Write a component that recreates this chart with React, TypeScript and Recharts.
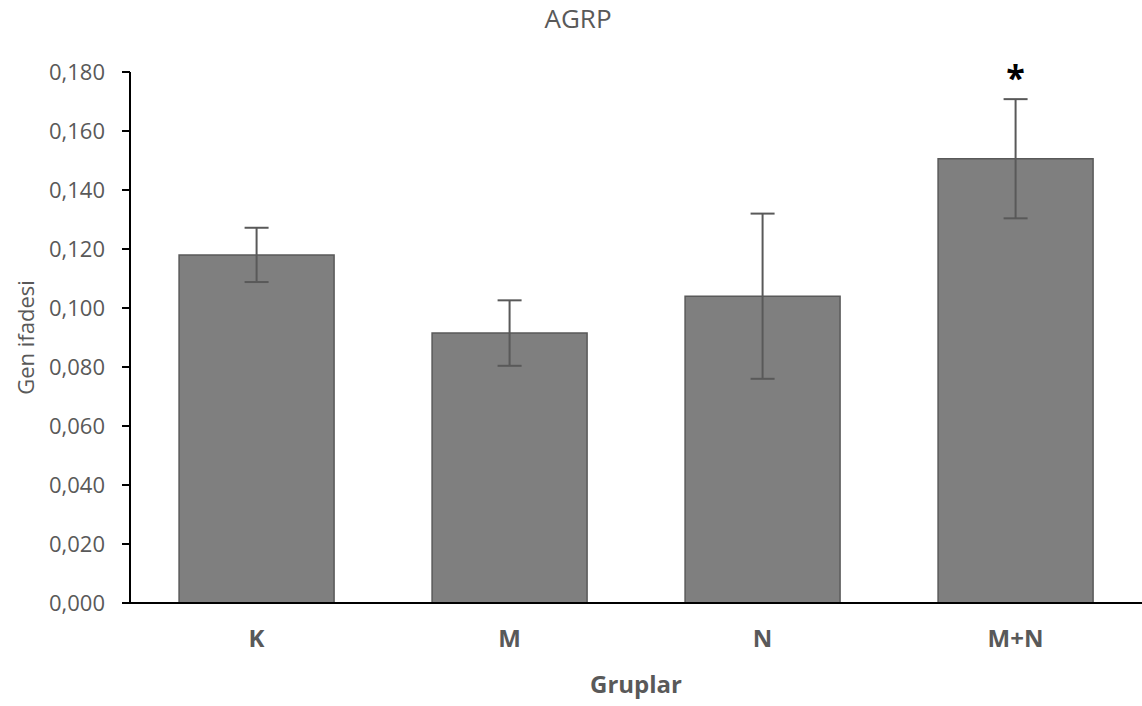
import { BarChart, Bar, XAxis, YAxis, ErrorBar, LabelList, Label } from "recharts";

// gruplar ve ölçülen gen ifadesi (ortalama ± hata)
const groups = ["K", "M", "N", "M+N"];
const means = [0.118, 0.0915, 0.104, 0.1506];
const errors = [0.0092, 0.0111, 0.028, 0.0202];
const marks = ["", "", "", "*"];
const yTicks = [0, 0.02, 0.04, 0.06, 0.08, 0.1, 0.12, 0.14, 0.16, 0.18];

const data = groups.map((g, i) => ({
  group: g,
  value: means[i],
  err: errors[i],
  mark: marks[i],
}));

const FONT = "'Open Sans', sans-serif";
const GREY = "#595959";

// 0.12 → "0,120"
function formatTick(v: number): string {
  return v.toFixed(3).replace(".", ",");
}

interface MarkProps {
  x?: number;
  y?: number;
  width?: number;
  height?: number;
  value?: string;
  index?: number;
}

// yıldız: hata çubuğunun üstüne
function StarMark({ x = 0, y = 0, width = 0, height = 0, value, index = 0 }: MarkProps) {
  if (!value) return null;
  const pxPerUnit = height / means[index];
  const errTop = y - errors[index] * pxPerUnit;
  return (
    <text
      x={x + width / 2}
      y={errTop - 9}
      textAnchor="middle"
      fontFamily={FONT}
      fontWeight={700}
      fontSize={34}
      fill="#000"
    >
      {value}
    </text>
  );
}

export default function App() {
  return (
    <div style={{ position: "absolute", left: 0, top: 0, width: 1142, height: 706, background: "#fff" }}>
      <div
        style={{
          position: "absolute",
          left: 0,
          top: 0,
          width: 1142,
          boxSizing: "border-box",
          paddingLeft: 14,
          textAlign: "center",
          fontFamily: FONT,
          fontSize: 26,
          lineHeight: "normal",
          color: GREY,
        }}
      >
        AGRP
      </div>
      <BarChart
        width={1142}
        height={706}
        data={data}
        margin={{ top: 72, right: 0, bottom: 0, left: 0 }}
        barCategoryGap="19.4%"
      >
        <XAxis
          dataKey="group"
          height={103}
          axisLine={{ stroke: "#000", strokeWidth: 2 }}
          tickLine={false}
          tickSize={0}
          tickMargin={27}
          tick={{ fontFamily: FONT, fontSize: 24, fontWeight: 700, fill: GREY }}
        >
          <Label
            value="Gruplar"
            position="insideBottom"
            offset={13}
            style={{ fontFamily: FONT, fontSize: 24, fontWeight: 700, fill: GREY }}
          />
        </XAxis>
        <YAxis
          width={130}
          domain={[0, 0.18]}
          ticks={yTicks}
          interval={0}
          tickFormatter={formatTick}
          axisLine={{ stroke: "#000", strokeWidth: 2 }}
          tickLine={{ stroke: "#000", strokeWidth: 2 }}
          tickSize={8}
          tickMargin={17}
          tick={{ fontFamily: FONT, fontSize: 22, fill: GREY }}
        >
          <Label
            value="Gen ifadesi"
            angle={-90}
            position="insideLeft"
            offset={26}
            style={{ fontFamily: FONT, fontSize: 22, fill: GREY, textAnchor: "middle" }}
          />
        </YAxis>
        <Bar dataKey="value" fill="#7f7f7f" stroke={GREY} strokeWidth={1.5} isAnimationActive={false}>
          <ErrorBar dataKey="err" width={12} strokeWidth={2} stroke={GREY} direction="y" isAnimationActive={false} />
          <LabelList dataKey="mark" content={<StarMark />} />
        </Bar>
      </BarChart>
    </div>
  );
}
